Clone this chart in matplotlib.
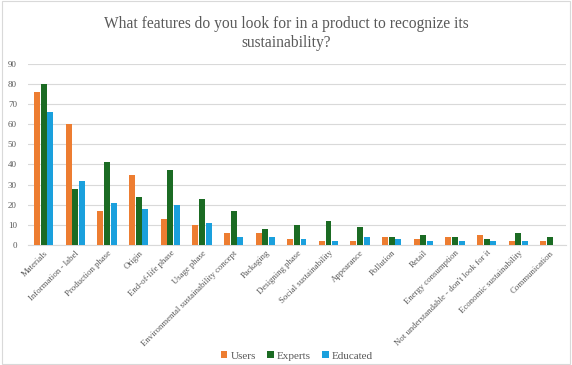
import numpy as np
import matplotlib
matplotlib.use("Agg")
import matplotlib.pyplot as plt
from matplotlib.patches import Rectangle

categories = [
    "Materials", "Information - label", "Production phase", "Origin",
    "End-of-life phase", "Usage phase", "Environmental sustainability concept",
    "Packaging", "Designing phase", "Social sustainability", "Appearance",
    "Pollution", "Retail", "Energy consumption",
    "Not understandable - don't look for it", "Economic sustainability",
    "Communication",
]
users = [76, 60, 17, 35, 13, 10, 6, 6, 3, 2, 2, 4, 3, 4, 5, 2, 2]
experts = [80, 28, 41, 24, 37, 23, 17, 8, 10, 12, 9, 4, 5, 4, 3, 6, 4]
educated = [66, 32, 21, 18, 20, 11, 4, 4, 3, 2, 4, 3, 2, 2, 2, 2, 0]

series = [("Users", users, "#ED7D31"),
          ("Experts", experts, "#1B6B23"),
          ("Educated", educated, "#1AA0DD")]

plt.rcParams["font.family"] = ["Liberation Serif", "DejaVu Serif"]

fig = plt.figure(figsize=(5.72, 3.65), dpi=100)
ax = fig.add_axes([0.049, 0.329, 0.94, 0.496])

x = np.arange(len(categories))
w = 0.21
for i, (name, vals, col) in enumerate(series):
    ax.bar(x + (i - 1) * w, vals, width=w * 0.9, color=col, label=name, zorder=3)

ax.set_ylim(0, 90)
ax.set_yticks(np.arange(0, 91, 10))
ax.set_xlim(-0.5, len(categories) - 0.5)
ax.set_xticks(x)
ax.set_xticklabels(categories, rotation=45, ha="right", rotation_mode="anchor",
                   fontsize=6.3, color="#595959")
ax.tick_params(axis="y", labelsize=6.5, colors="#595959", length=0, pad=8)
ax.tick_params(axis="x", length=0, pad=3)
ax.grid(axis="y", color="#D9D9D9", linewidth=0.8, zorder=0)
for s in ["top", "right", "left"]:
    ax.spines[s].set_visible(False)
ax.spines["bottom"].set_color("#D9D9D9")

fig.suptitle("What features do you look for in a product to recognize its\nsustainability?",
             fontsize=11.2, color="#595959", y=0.955, linespacing=1.2)

ax.legend(loc="lower center", bbox_to_anchor=(0.5, -0.695), ncol=3, frameon=False,
          fontsize=8, handlelength=0.6, handleheight=0.6, handletextpad=0.3,
          columnspacing=1.0, labelcolor="#595959")

fig.patches.append(Rectangle((0.003, 0.003), 0.994, 0.994, transform=fig.transFigure,
                             fill=False, edgecolor="#D9D9D9", linewidth=0.8))

plt.savefig("out.png", dpi=100)
